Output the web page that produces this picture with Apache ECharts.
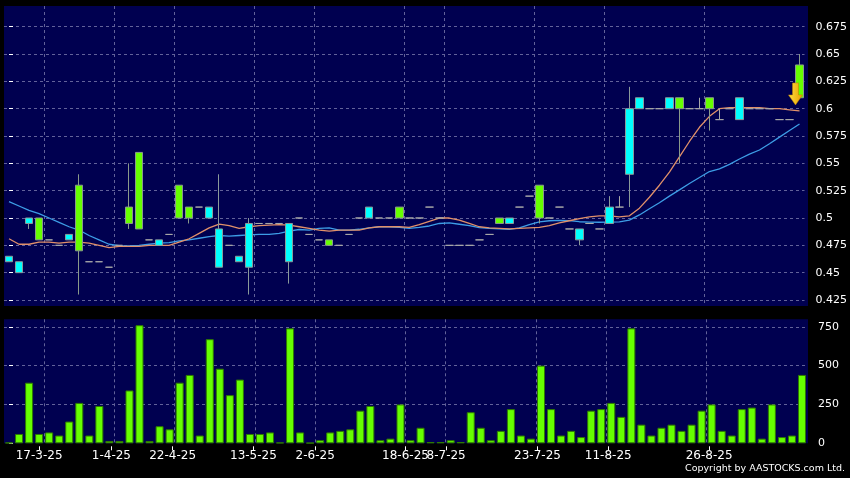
<!DOCTYPE html>
<html><head><meta charset="utf-8">
<script src="https://cdn.jsdelivr.net/npm/echarts@6/dist/echarts.min.js"></script>
<style>html,body{margin:0;padding:0;background:#000;}#c{width:850px;height:478px;}</style>
</head><body><div id="c"></div>
<script>
// [open, close, low, high]; close > open = cyan, close < open = green
const ohlc = [
 [0.46,0.465,0.46,0.465],[0.45,0.46,0.45,0.46],[0.495,0.50,0.49,0.50],[0.50,0.48,0.48,0.50],[0.48,0.48,0.48,0.48],
 [0.475,0.475,0.475,0.475],[0.48,0.485,0.48,0.485],[0.53,0.47,0.43,0.54],[0.46,0.46,0.46,0.46],[0.46,0.46,0.46,0.46],
 [0.455,0.455,0.455,0.455],[0.475,0.475,0.475,0.475],[0.51,0.495,0.49,0.55],[0.56,0.49,0.49,0.56],[0.48,0.48,0.48,0.48],
 [0.475,0.48,0.475,0.48],[0.485,0.485,0.485,0.485],[0.53,0.50,0.50,0.53],[0.51,0.50,0.495,0.51],[0.51,0.51,0.51,0.51],
 [0.50,0.51,0.50,0.51],[0.455,0.49,0.455,0.54],[0.475,0.475,0.475,0.475],[0.46,0.465,0.46,0.465],[0.455,0.495,0.43,0.50],
 [0.495,0.495,0.495,0.495],[0.495,0.495,0.495,0.495],[0.495,0.495,0.495,0.495],[0.46,0.495,0.44,0.495],[0.50,0.50,0.50,0.50],
 [0.485,0.485,0.485,0.485],[0.48,0.48,0.48,0.48],[0.48,0.475,0.475,0.48],[0.475,0.475,0.475,0.475],[0.485,0.485,0.485,0.485],
 [0.50,0.50,0.50,0.50],[0.50,0.51,0.50,0.51],[0.50,0.50,0.50,0.50],[0.50,0.50,0.50,0.50],[0.51,0.50,0.50,0.51],
 [0.50,0.50,0.50,0.50],[0.50,0.50,0.50,0.50],[0.51,0.51,0.51,0.51],[0.50,0.50,0.50,0.50],[0.475,0.475,0.475,0.475],
 [0.475,0.475,0.475,0.475],[0.475,0.475,0.475,0.475],[0.48,0.48,0.48,0.48],[0.485,0.485,0.485,0.485],[0.50,0.495,0.495,0.50],
 [0.495,0.50,0.495,0.50],[0.51,0.51,0.51,0.51],[0.52,0.52,0.52,0.52],[0.53,0.50,0.495,0.53],[0.50,0.50,0.50,0.50],
 [0.51,0.51,0.51,0.51],[0.49,0.49,0.49,0.49],[0.48,0.49,0.475,0.49],[0.495,0.495,0.495,0.495],[0.49,0.49,0.49,0.49],
 [0.495,0.51,0.495,0.52],[0.51,0.51,0.51,0.52],[0.54,0.60,0.51,0.62],[0.60,0.61,0.60,0.61],[0.60,0.60,0.60,0.60],
 [0.60,0.60,0.60,0.60],[0.60,0.61,0.60,0.61],[0.61,0.60,0.55,0.61],[0.60,0.60,0.60,0.60],[0.60,0.60,0.60,0.61],
 [0.61,0.60,0.58,0.61],[0.59,0.59,0.59,0.60],[0.60,0.60,0.60,0.60],[0.59,0.61,0.59,0.61],[0.60,0.60,0.60,0.60],
 [0.60,0.60,0.60,0.60],[0.60,0.60,0.60,0.60],[0.59,0.59,0.59,0.59],[0.59,0.59,0.59,0.59],[0.64,0.61,0.61,0.65]
];
const volume = [
 5,60,390,60,70,50,140,260,50,240,
 15,15,340,760,15,110,90,390,440,50,
 670,480,310,410,60,60,70,5,740,70,
 3,20,70,80,90,210,240,20,30,250,
 20,100,8,8,20,8,200,100,20,80,
 220,50,30,500,220,50,80,40,210,220,
 260,170,740,120,50,100,120,80,120,210,
 250,80,50,220,230,30,250,40,50,440
];
const ma10 = [
 0.481,0.476,0.476,0.478,0.478,0.477,0.478,0.478,0.477,0.475,
 0.473,0.474,0.474,0.474,0.475,0.475,0.475,0.478,0.481,0.486,
 0.491,0.4945,0.493,0.4905,0.492,0.493,0.4935,0.494,0.4935,0.492,
 0.4905,0.489,0.488,0.489,0.489,0.489,0.491,0.492,0.492,0.492,
 0.4915,0.494,0.497,0.500,0.500,0.498,0.495,0.492,0.491,0.4905,
 0.490,0.4905,0.491,0.4915,0.493,0.4955,0.4975,0.4995,0.501,0.502,
 0.502,0.501,0.502,0.509,0.519,0.530,0.542,0.556,0.570,0.583,
 0.593,0.600,0.601,0.601,0.601,0.601,0.600,0.600,0.599,0.598
];
const ma20 = [
 0.515,0.511,0.507,0.504,0.500,0.496,0.492,0.489,0.484,0.480,
 0.476,0.4748,0.4745,0.475,0.476,0.477,0.4775,0.479,0.480,0.4815,
 0.483,0.484,0.4835,0.484,0.4845,0.485,0.485,0.486,0.488,0.4895,
 0.489,0.4905,0.491,0.489,0.489,0.4897,0.491,0.492,0.492,0.4915,
 0.4906,0.4915,0.4927,0.495,0.4955,0.4943,0.493,0.4912,0.4905,0.490,
 0.4897,0.491,0.494,0.4965,0.4975,0.4978,0.4976,0.4966,0.4962,0.4961,
 0.4962,0.4965,0.498,0.5028,0.5085,0.514,0.520,0.5257,0.5316,0.537,
 0.5425,0.545,0.549,0.554,0.5585,0.5622,0.568,0.574,0.580,0.586
];
const priceTicks = [0.425,0.45,0.475,0.5,0.525,0.55,0.575,0.6,0.625,0.65,0.675];
const volumeTicks = [0,250,500,750];
const dateLabels = ['17-3-25','1-4-25','22-4-25','13-5-25','2-6-25','18-6-25','8-7-25','23-7-25','11-8-25','26-8-25'];
const dateLabelAt = [3,10.2,16.3,24.35,30.5,39.5,43.55,52.65,59.7,69.75];
const dateGridAt = [3.5,10.5,16.5,24.5,30.5,39.5,43.5,52.5,59.5,69.5];
const days = ohlc.map((d, i) => String(i));

const FONT = 'DejaVu Sans';
const NAVY = '#000050';
const gridLine = { show: true, lineStyle: { color: '#62629a', type: [3, 3], width: 1 } };
const hiddenCat = (g) => ({ type: 'category', gridIndex: g, data: days, boundaryGap: true,
  axisLine: { show: false }, axisTick: { show: false }, axisLabel: { show: false }, splitLine: { show: false } });
const vGrid = (g) => ({ type: 'value', gridIndex: g, min: -0.5, max: 79.5,
  axisLine: { show: false }, axisLabel: { show: false },
  axisTick: { show: false, customValues: dateGridAt },
  splitLine: Object.assign({ customValues: dateGridAt }, gridLine) });

const chart = echarts.init(document.getElementById('c'), null, { renderer: 'canvas' });
chart.setOption({
  backgroundColor: '#000000',
  animation: false,
  graphic: [
    { type: 'rect', z: -10, shape: { x: 4, y: 6, width: 804, height: 300 }, style: { fill: NAVY } },
    { type: 'rect', z: -10, shape: { x: 4, y: 319.3, width: 804, height: 124 }, style: { fill: NAVY } }
  ],
  title: { text: 'Copyright by AASTOCKS.com Ltd.', right: 5, top: 464, padding: 0,
    textStyle: { color: '#ffffff', fontSize: 9.5, fontWeight: 'normal', fontFamily: FONT } },
  grid: [
    { left: 4, width: 803, top: 6, height: 300 },
    { left: 4, width: 803, top: 319.3, height: 124 }
  ],
  xAxis: [
    hiddenCat(0), vGrid(0), hiddenCat(1), vGrid(1),
    { type: 'value', gridIndex: 1, min: -0.5, max: 79.5, position: 'bottom', offset: 3,
      axisLine: { show: false }, splitLine: { show: false },
      axisTick: { show: true, length: 4, customValues: dateLabelAt, lineStyle: { color: '#ffffff' } },
      axisLabel: { show: true, customValues: dateLabelAt, margin: 4, color: '#ffffff', fontSize: 12, fontFamily: FONT,
        formatter: (v) => { const i = dateLabelAt.indexOf(v); return i >= 0 ? dateLabels[i] : ''; } } }
  ],
  yAxis: [
    { type: 'value', gridIndex: 0, min: 0.41951, max: 0.69394, position: 'right', offset: 4,
      axisLine: { show: false },
      axisTick: { show: true, length: 4, customValues: priceTicks, lineStyle: { color: '#ffffff' } },
      axisLabel: { customValues: priceTicks, margin: 7, color: '#ffffff', fontSize: 11, fontFamily: FONT },
      splitLine: Object.assign({ customValues: priceTicks }, gridLine) },
    { type: 'value', gridIndex: 1, min: 0, max: 798, position: 'right', offset: 4,
      axisLine: { show: false },
      axisTick: { show: true, length: 4, customValues: volumeTicks, lineStyle: { color: '#ffffff' } },
      axisLabel: { customValues: volumeTicks, margin: 7, color: '#ffffff', fontSize: 11, fontFamily: FONT },
      splitLine: Object.assign({ customValues: volumeTicks, showMinLine: false }, gridLine) }
  ],
  series: [
    { name: 'MA20', type: 'line', xAxisIndex: 0, yAxisIndex: 0, data: ma20, showSymbol: false, z: 3,
      lineStyle: { color: '#3d9de6', width: 1.3 }, silent: true },
    { name: 'MA10', type: 'line', xAxisIndex: 0, yAxisIndex: 0, data: ma10, showSymbol: false, z: 3,
      lineStyle: { color: '#e0906a', width: 1.3 }, silent: true },
    { name: 'Price', type: 'candlestick', xAxisIndex: 0, yAxisIndex: 0, data: ohlc, barWidth: 8, z: 5,
      itemStyle: { color: '#00ffff', color0: '#66ff00', borderColor: '#8a9a9a', borderColor0: '#8a9a8a',
        borderColorDoji: '#a8a8a8', borderWidth: 1 },
      markPoint: { silent: true, z: 20, symbol: 'path://M4,0 L10,0 L10,12 L14,12 L7,22 L0,12 L4,12 Z',
        symbolSize: [14, 22], symbolOffset: [-4, 0], label: { show: false },
        itemStyle: { color: { type: 'linear', x: 0, y: 0, x2: 1, y2: 0, colorStops: [
          { offset: 0, color: '#ffe040' }, { offset: 1, color: '#e8a000' }] }, borderColor: '#c08000', borderWidth: 0.5 },
        data: [{ coord: ['79', 0.6135] }] } },
    { name: 'Volume', type: 'bar', xAxisIndex: 2, yAxisIndex: 1, data: volume, barWidth: 8,
      itemStyle: { color: '#66ff00', borderColor: '#2f7a00', borderWidth: 1 } }
  ]
});
</script></body></html>
